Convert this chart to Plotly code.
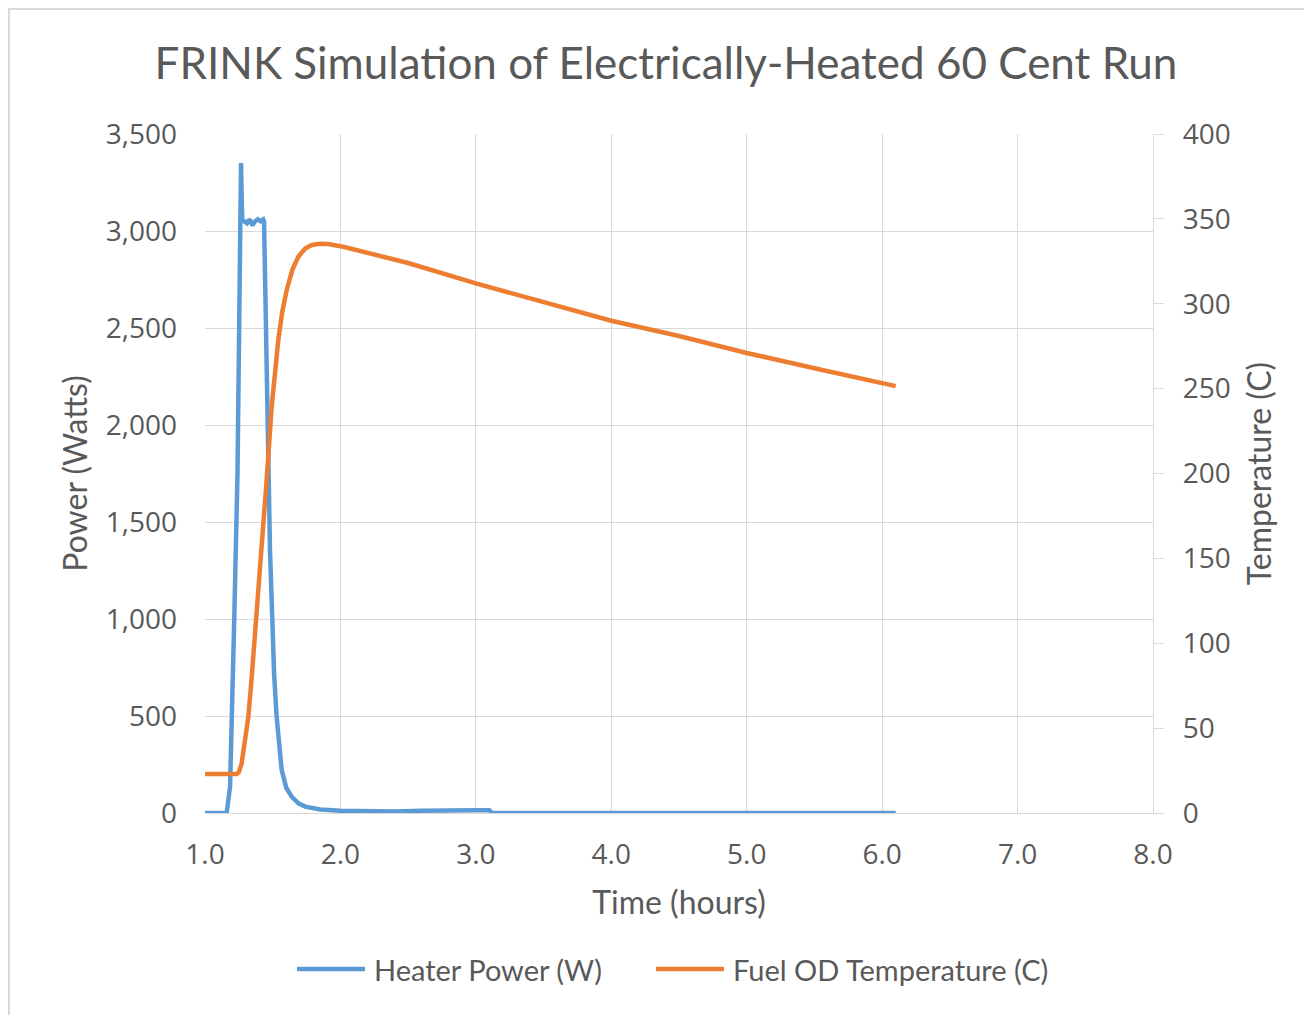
import plotly.graph_objects as go

# ---------------- data ----------------
power_time = [1.00, 1.10, 1.16, 1.185, 1.20, 1.216, 1.24, 1.255, 1.262, 1.266, 1.270, 1.275,
              1.29, 1.31, 1.33, 1.35, 1.37, 1.39, 1.41, 1.43, 1.436, 1.445, 1.455, 1.467,
              1.48, 1.497, 1.51, 1.529, 1.55, 1.566, 1.60, 1.64, 1.69, 1.74, 1.85, 2.00,
              2.40, 2.60, 3.00, 3.10, 3.12, 4.00, 5.00, 6.10]
power_watts = [0, 0, 0, 135, 500, 1000, 1750, 2800, 3300, 3350, 3200, 3060,
               3050, 3040, 3060, 3030, 3050, 3060, 3050, 3060, 3050, 2700, 2200, 1770,
               1350, 1000, 720, 496, 320, 222, 130, 84, 50, 33, 18, 12,
               8, 12, 14, 14, 0, 0, 0, 0]

temp_time = [1.00, 1.234, 1.25, 1.27, 1.29, 1.32, 1.345, 1.369, 1.406, 1.443, 1.455, 1.492,
             1.515, 1.541, 1.57, 1.603, 1.645, 1.689, 1.74, 1.788, 1.85, 1.91, 2.02, 2.50,
             3.00, 3.50, 4.00, 4.50, 5.00, 5.50, 6.00, 6.10]
temp_c = [23, 23, 24, 29, 40, 56.7, 80, 104, 143, 182.6, 196, 239,
          261, 278.6, 295, 308, 320, 327.7, 332.5, 334.6, 335.3, 335.2, 333.6, 324,
          312, 301, 290, 281, 271, 262, 253, 251.5]

x_ticks = [1.0, 2.0, 3.0, 4.0, 5.0, 6.0, 7.0, 8.0]
x_tick_labels = ["1.0", "2.0", "3.0", "4.0", "5.0", "6.0", "7.0", "8.0"]

title_text = "FRINK Simulation of Electrically-Heated 60 Cent Run"
series_names = ["Heater Power (W)", "Fuel OD Temperature (C)"]
colors = ["#5B9BD5", "#ED7D31"]

# ---------------- figure ----------------
OFF = 8  # page body margin
W, H = 1304, 1007
ml, mt = 205 - OFF, 134 - OFF
pw, ph = 1153 - 205, 813 - 134
mr, mb = W - ml - pw, H - mt - ph

TXT = "#595959"
GRID = "#D9D9D9"
TFONT = "Lato"
NFONT = "Open Sans"

fig = go.Figure()
fig.add_trace(go.Scatter(x=power_time, y=power_watts, mode="lines", name=series_names[0],
                         line=dict(color=colors[0], width=4.5), yaxis="y", showlegend=False))
fig.add_trace(go.Scatter(x=temp_time, y=temp_c, mode="lines", name=series_names[1],
                         line=dict(color=colors[1], width=4.5),
                         yaxis="y2", showlegend=False))

def px_x(p):
    return (p - OFF - ml) / pw

def px_y(p):
    return (H - mb - (p - OFF)) / ph

# custom legend
leg_y = px_y(969)
items = [(297, 365, 372, series_names[0], colors[0]),
         (656, 724, 731, series_names[1], colors[1])]
shapes = []
annotations = []
for x0, x1, xt, name, c in items:
    shapes.append(dict(type="line", xref="paper", yref="paper",
                       x0=px_x(x0), x1=px_x(x1), y0=leg_y, y1=leg_y,
                       line=dict(color=c, width=4.5)))
    annotations.append(dict(xref="paper", yref="paper", x=px_x(xt), y=leg_y,
                            text=name, showarrow=False, xanchor="left", yanchor="middle",
                            font=dict(family=TFONT, size=29, color=TXT)))

# chart border
shapes.append(dict(type="rect", xref="paper", yref="paper",
                   x0=px_x(9), x1=px_x(1318), y0=px_y(1020), y1=px_y(9),
                   line=dict(color="#D9D9D9", width=2), layer="below"))

fig.update_layout(
    width=W, height=H,
    margin=dict(l=ml, r=mr, t=mt, b=mb),
    paper_bgcolor="white", plot_bgcolor="white",
    title=dict(text=title_text, x=(666 - OFF) / W, xanchor="center",
               y=1 - (64 - OFF) / H, yanchor="middle",
               font=dict(family=TFONT, size=44, color=TXT)),
    xaxis=dict(range=[1.0, 8.0], tickvals=x_ticks, ticktext=x_tick_labels,
               showgrid=True, gridcolor=GRID, gridwidth=1.3,
               showline=True, linecolor=GRID, linewidth=1.3,
               ticks="", ticklabelstandoff=16, zeroline=False,
               tickfont=dict(family=NFONT, size=28, color=TXT),
               title=dict(text="Time (hours)", standoff=20,
                          font=dict(family=TFONT, size=32, color=TXT))),
    yaxis=dict(range=[0, 3500], dtick=500, tickformat=",",
               showgrid=True, gridcolor=GRID, gridwidth=1.3,
               showline=False, zeroline=False, ticks="", ticklabelstandoff=27,
               tickfont=dict(family=NFONT, size=28, color=TXT),
               title=dict(text="Power (Watts)", standoff=8,
                          font=dict(family=TFONT, size=32, color=TXT))),
    yaxis2=dict(range=[0, 400], dtick=50, overlaying="y", side="right",
                showgrid=False, zeroline=False,
                showline=True, linecolor=GRID, linewidth=1.3,
                ticks="outside", ticklen=10, tickcolor=GRID, tickwidth=1.3,
                ticklabelstandoff=13,
                tickfont=dict(family=NFONT, size=28, color=TXT),
                title=dict(text="Temperature (C)", standoff=18,
                           font=dict(family=TFONT, size=32, color=TXT))),
    shapes=shapes,
    annotations=annotations,
)

fig.write_html("out.html")
